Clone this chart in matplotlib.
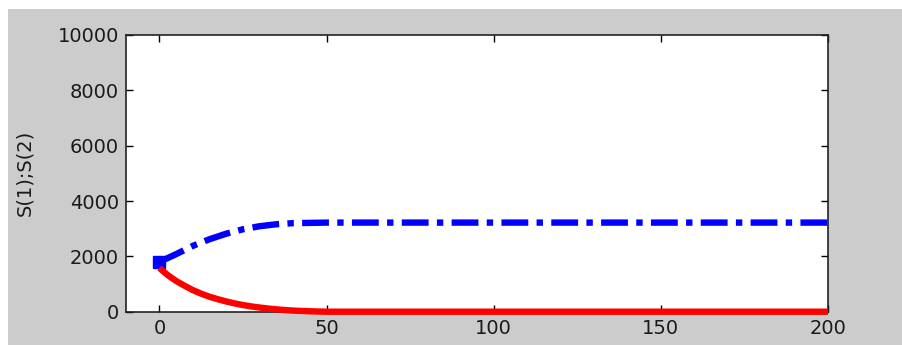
import matplotlib.pyplot as plt
from matplotlib.patches import Rectangle

# ---------------------------
# DATA
# ---------------------------
t_s1 = [0, 2.5, 5, 7.5, 10, 12.5, 15, 17.5, 20, 22.5, 25, 27.5, 30, 32.5, 35,
        37.5, 40, 45, 50, 200]
s1 = [1580, 1320, 1110, 940, 780, 650, 540, 450, 370, 300, 240, 190, 150, 115,
      85, 60, 40, 15, 0, 0]

t_s2 = [0, 5, 10, 15, 20, 25, 30, 35, 40, 50, 60, 200]
s2 = [1800, 2080, 2380, 2620, 2820, 2980, 3090, 3160, 3200, 3220, 3220, 3220]

xticks = [0, 50, 100, 150, 200]
yticks = [0, 2000, 4000, 6000, 8000, 10000]

plt.rcParams['font.family'] = ['DejaVu Sans']

fig = plt.figure(figsize=(9.02, 3.45), dpi=100, facecolor='white')
# gray panel (white strip left and top, like the screenshot)
fig.patches.append(Rectangle((8 / 902, 0), 1, 1 - 9 / 345, transform=fig.transFigure,
                             facecolor='#cccccc', edgecolor='none', zorder=-10))

ax = fig.add_axes([126 / 902, 33.3 / 345, (828 - 126) / 902, (311.7 - 35) / 345])
ax.set_facecolor('white')

# ---------------------------
# PLOT
# ---------------------------
ax.plot(t_s1, s1, color='#ff0000', lw=4.6, solid_capstyle='butt',
        clip_on=False, zorder=4)
ax.plot(t_s2, s2, color='#0000ff', lw=4.6, dash_capstyle='butt',
        linestyle=(0, (4.2, 1.3, 1.0, 1.3)), zorder=3)
ax.plot(t_s2[:1], s2[:1], 's', color='#0000ff', ms=8, zorder=3)

ax.set_xlim(-10, 200)
ax.set_ylim(0, 10000)
ax.set_xticks(xticks)
ax.set_yticks(yticks)
ax.tick_params(direction='in', length=5, width=1, top=True, right=True,
               labelsize=14, labelcolor='#1a1a1a', pad=5)
for sp in ax.spines.values():
    sp.set_linewidth(1.2)
    sp.set_color('#222222')

ax.set_ylabel('S(1);S(2)', fontsize=14, color='#1a1a1a')
ax.yaxis.set_label_coords(-0.13, 0.5)

fig.savefig('out.png', dpi=100, facecolor=fig.get_facecolor())
